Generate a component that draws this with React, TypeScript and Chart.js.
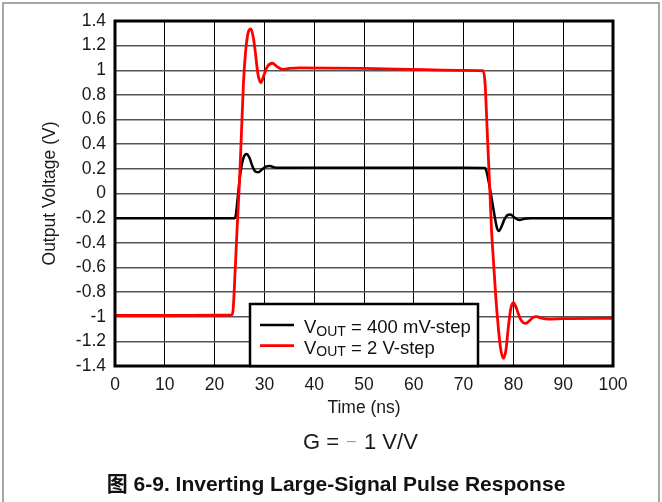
import React, { useEffect, useRef } from "react";
import { Chart, registerables } from "chart.js";

Chart.register(...registerables);

// Axis ticks
const xTickValues = [0, 10, 20, 30, 40, 50, 60, 70, 80, 90, 100];
const xTickLabels = ["0", "10", "20", "30", "40", "50", "60", "70", "80", "90", "100"];
const yTickValues = [-1.4, -1.2, -1, -0.8, -0.6, -0.4, -0.2, 0, 0.2, 0.4, 0.6, 0.8, 1, 1.2, 1.4];
const yTickLabels = ["-1.4", "-1.2", "-1", "-0.8", "-0.6", "-0.4", "-0.2", "0", "0.2", "0.4", "0.6", "0.8", "1", "1.2", "1.4"];

// 400 mV step response (time in ns, output in V)
const time400 = [
  0, 10, 20, 24.0, 24.2, 24.6, 25.2, 25.8, 26.4, 27.0, 27.7, 28.3, 28.8, 29.5, 30.3, 31.1, 32.0,
  33.0, 40, 50, 60, 70, 74.3, 74.6, 75.2, 75.8, 76.3, 76.7, 77.1, 77.6, 78.2, 78.8, 79.4, 80.2,
  81.2, 82.2, 83.5, 90, 100,
];
const volt400 = [
  -0.2, -0.2, -0.2, -0.2, -0.19, -0.05, 0.17, 0.29, 0.32, 0.29, 0.21, 0.175, 0.172, 0.195, 0.218,
  0.223, 0.212, 0.208, 0.21, 0.21, 0.21, 0.208, 0.207, 0.18, 0.06, -0.08, -0.2, -0.28, -0.305,
  -0.27, -0.21, -0.175, -0.17, -0.195, -0.215, -0.205, -0.2, -0.2, -0.2,
];

// 2 V step response (time in ns, output in V)
const time2V = [
  0, 10, 20, 23.4, 23.7, 24.1, 24.5, 25.0, 25.4, 25.8, 26.2, 26.7, 27.3, 27.8, 28.2, 28.7, 29.3,
  29.9, 30.6, 31.6, 32.5, 33.7, 35.0, 37.0, 50, 62, 70, 73.9, 74.3, 74.8, 75.3, 75.6, 76.0, 76.5,
  77.0, 77.4, 78.0, 78.5, 79.0, 79.5, 80.0, 80.6, 81.3, 82.0, 82.5, 83.3, 84.0, 84.7, 85.5, 87,
  90, 100,
];
const volt2V = [
  -0.99, -0.99, -0.988, -0.986, -0.95, -0.65, -0.3, 0.1, 0.5, 0.9, 1.14, 1.3, 1.335, 1.26, 1.14,
  0.97, 0.9, 0.96, 1.03, 1.057, 1.03, 1.008, 1.015, 1.02, 1.016, 1.005, 1.0, 0.998, 0.9, 0.45,
  0.0, -0.29, -0.55, -0.86, -1.1, -1.25, -1.338, -1.27, -1.08, -0.93, -0.886, -0.93, -1.01,
  -1.05, -1.054, -1.03, -1.005, -1.0, -1.01, -1.02, -1.015, -1.013,
];

const seriesColors = ["#000000", "#ff0000"];
const seriesMain = ["V", "V"];
const seriesSub = ["OUT", "OUT"];
const seriesRest = [" = 400 mV-step", " = 2 V-step"];

const xTitle = "Time (ns)";
const yTitle = "Output Voltage (V)";
const gainParts = ["G = ", "\u2013", "1 V/V"];
const caption = "\u56fe 6-9. Inverting Large-Signal Pulse Response";

const FONT = '"Liberation Sans", Arial, "Noto Sans CJK SC", sans-serif';

const toPoints = (ts: number[], vs: number[]) => ts.map((t, i) => ({ x: t, y: vs[i] }));

const decorations = {
  id: "decorations",
  afterDatasetsDraw(chart: any) {
    const { ctx, chartArea: ca } = chart;
    ctx.save();

    // plot frame
    ctx.strokeStyle = "#000";
    ctx.lineWidth = 3;
    ctx.strokeRect(ca.left, ca.top, ca.right - ca.left, ca.bottom - ca.top);

    // legend box
    const bl = 250, bt = 304, br = 478, bb = ca.bottom;
    ctx.fillStyle = "#fff";
    ctx.fillRect(bl, bt, br - bl, bb - bt);
    ctx.lineWidth = 2.5;
    ctx.strokeRect(bl, bt, br - bl, bb - bt);

    const rowsY = [325, 345.7];
    chart.data.datasets.forEach((ds: any, i: number) => {
      const y = rowsY[i];
      ctx.strokeStyle = seriesColors[i];
      ctx.lineWidth = ds.borderWidth;
      ctx.beginPath();
      ctx.moveTo(260, y);
      ctx.lineTo(294, y);
      ctx.stroke();

      ctx.fillStyle = "#111";
      ctx.textAlign = "left";
      ctx.textBaseline = "alphabetic";
      let x = 304;
      ctx.font = `18.5px ${FONT}`;
      ctx.fillText(seriesMain[i], x, y + 8);
      x += ctx.measureText(seriesMain[i]).width;
      ctx.font = `14px ${FONT}`;
      ctx.fillText(seriesSub[i], x, y + 10.5);
      x += ctx.measureText(seriesSub[i]).width;
      ctx.font = `18.5px ${FONT}`;
      ctx.fillText(seriesRest[i], x, y + 8);
    });

    ctx.restore();
  },
  afterDraw(chart: any) {
    const { ctx } = chart;
    ctx.save();

    // page frame
    ctx.strokeStyle = "#8a8a8a";
    ctx.lineWidth = 1.5;
    ctx.beginPath();
    ctx.moveTo(3, 502);
    ctx.lineTo(3, 3);
    ctx.lineTo(659, 3);
    ctx.lineTo(659, 502);
    ctx.stroke();

    // gain note
    ctx.textBaseline = "middle";
    ctx.textAlign = "left";
    ctx.font = `22px ${FONT}`;
    ctx.fillStyle = "#1a1a1a";
    ctx.fillText(gainParts[0], 303, 443);
    ctx.fillStyle = "#9a9a9a";
    ctx.font = `16px ${FONT}`;
    ctx.fillText(gainParts[1], 347, 442);
    ctx.fillStyle = "#1a1a1a";
    ctx.font = `22px ${FONT}`;
    ctx.fillText(gainParts[2], 364, 443);

    // caption
    ctx.font = `bold 21px ${FONT}`;
    ctx.fillStyle = "#111";
    ctx.textAlign = "center";
    ctx.fillText(caption, 336, 485);

    ctx.restore();
  },
};

export default function App() {
  const canvasRef = useRef<HTMLCanvasElement | null>(null);

  useEffect(() => {
    if (!canvasRef.current) return;
    const tickFont = { family: FONT, size: 17.5 };

    const chart = new Chart(canvasRef.current, {
      type: "line",
      data: {
        datasets: [
          {
            label: seriesMain[0] + seriesSub[0] + seriesRest[0],
            data: toPoints(time400, volt400),
            borderColor: seriesColors[0],
            borderWidth: 2.5,
            pointRadius: 0,
            cubicInterpolationMode: "monotone",
            order: 1,
          },
          {
            label: seriesMain[1] + seriesSub[1] + seriesRest[1],
            data: toPoints(time2V, volt2V),
            borderColor: seriesColors[1],
            borderWidth: 2.8,
            pointRadius: 0,
            cubicInterpolationMode: "monotone",
            order: 0,
          },
        ],
      },
      options: {
        animation: false,
        responsive: false,
        maintainAspectRatio: false,
        events: [],
        layout: { padding: { left: 0, top: 21, right: 49, bottom: 80 } },
        plugins: {
          legend: { display: false },
          tooltip: { enabled: false },
        },
        scales: {
          x: {
            type: "linear",
            min: 0,
            max: 100,
            afterBuildTicks: (s: any) => {
              s.ticks = xTickValues.map((v) => ({ value: v }));
            },
            afterFit: (s: any) => {
              s.height = 56;
            },
            ticks: {
              font: tickFont,
              color: "#1a1a1a",
              padding: 9,
              maxRotation: 0,
              autoSkip: false,
              callback: (_v: any, i: number) => xTickLabels[i],
            },
            grid: { color: "#000", lineWidth: 1, drawTicks: false },
            border: { display: false },
            title: {
              display: true,
              text: xTitle,
              font: tickFont,
              color: "#1a1a1a",
              padding: { top: 0, bottom: 3.5 },
            },
          },
          y: {
            type: "linear",
            min: -1.4,
            max: 1.4,
            afterBuildTicks: (s: any) => {
              s.ticks = yTickValues.map((v) => ({ value: v }));
            },
            afterFit: (s: any) => {
              s.width = 115;
            },
            ticks: {
              font: tickFont,
              color: "#1a1a1a",
              padding: 9,
              autoSkip: false,
              callback: (_v: any, i: number) => yTickLabels[i],
            },
            grid: { color: "#555", lineWidth: 1.5, drawTicks: false },
            border: { display: false },
            title: {
              display: true,
              text: yTitle,
              font: tickFont,
              color: "#1a1a1a",
              padding: { top: 39.5, bottom: 0 },
            },
          },
        },
      },
      plugins: [decorations],
    } as any);

    return () => chart.destroy();
  }, []);

  return (
    <div style={{ position: "fixed", left: 0, top: 0, width: 662, height: 502, background: "#fff" }}>
      <canvas ref={canvasRef} width={662} height={502} style={{ display: "block" }} />
    </div>
  );
}
